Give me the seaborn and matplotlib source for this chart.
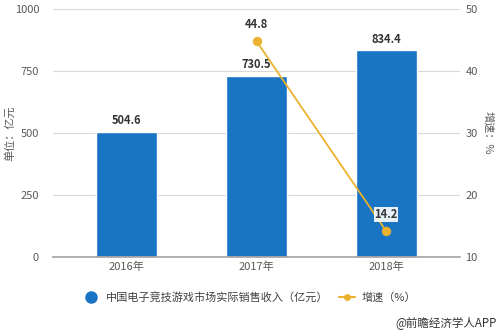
import matplotlib
matplotlib.use("Agg")
import matplotlib.pyplot as plt
import seaborn as sns
import pandas as pd
from matplotlib.lines import Line2D

years = ["2016年", "2017年", "2018年"]
revenue = [504.6, 730.5, 834.4]
growth_years = ["2017年", "2018年"]
growth = [44.8, 14.2]

bar_label = "中国电子竞技游戏市场实际销售收入（亿元）"
line_label = "增速（%）"

sns.set_theme(style="white")
plt.rcParams['font.family'] = ['Noto Sans CJK SC', 'DejaVu Sans']

BLUE = "#1a74c4"
ORANGE = "#eab22e"
GRID = "#d9d9d9"
TXT = "#595959"

fig = plt.figure(figsize=(5, 3.33), dpi=100)
ax = fig.add_axes([0.106, 0.228, 0.814, 0.745])

df = pd.DataFrame({"year": years, "rev": revenue})
sns.barplot(data=df, x="year", y="rev", color=BLUE, width=0.47, ax=ax, saturation=1)
ax.set_ylim(0, 1000)
ax.set_yticks([0, 250, 500, 750, 1000])
ax.set_xlim(-0.57, 2.57)
ax.yaxis.grid(True, color=GRID, linewidth=0.8)
ax.set_axisbelow(True)
for s in ["top", "right", "left"]:
    ax.spines[s].set_visible(False)
ax.spines["bottom"].set_color("#a6a6a6")
ax.tick_params(axis="both", length=0, labelsize=8, colors=TXT)
ax.tick_params(axis="y", pad=10)
ax.set_xlabel("")
ax.set_ylabel("单位：亿元", fontsize=8, color=TXT, va="center")
ax.yaxis.set_label_coords(-0.106, 0.5)

for i, v in enumerate(revenue):
    ax.text(i, v + 18, f"{v:.1f}", ha="center", va="bottom", fontsize=8,
            fontweight="bold", color="#333333")

ax2 = ax.twinx()
pos = [years.index(y) for y in growth_years]
gdf = pd.DataFrame({"x": pos, "g": growth})
sns.lineplot(data=gdf, x="x", y="g", color=ORANGE, marker="o", markersize=6,
             markeredgecolor=ORANGE, linewidth=1.3, ax=ax2)
ax2.set_ylim(10, 50)
ax2.set_yticks([10, 20, 30, 40, 50])
ax2.set_xlim(-0.57, 2.57)
for s in ["top", "right", "left", "bottom"]:
    ax2.spines[s].set_visible(False)
ax2.tick_params(axis="y", length=0, labelsize=8, colors=TXT, pad=4)
ax2.set_xlabel("")
ax2.set_ylabel("增速：%", fontsize=8, color=TXT, rotation=270, va="center")
ax2.yaxis.set_label_coords(1.068, 0.5)

for x, g in zip(pos, growth):
    t = ax2.text(x, g + 1.6, f"{g:.1f}", ha="center", va="bottom", fontsize=8,
                 fontweight="bold", color="#333333")
    t.set_bbox(dict(facecolor="white", edgecolor="none", pad=0.5, alpha=0.9))

handles = [
    Line2D([], [], marker="o", color=BLUE, linestyle="none", markersize=8),
    Line2D([], [], marker="o", color=ORANGE, linewidth=1.5, markersize=4),
]
fig.legend(handles, [bar_label, line_label], loc="center", bbox_to_anchor=(0.50, 0.108),
           ncol=2, frameon=False, fontsize=8, labelcolor="#404040",
           handlelength=1.4, columnspacing=1.0, handletextpad=0.6)

fig.text(0.994, 0.03, "@前瞻经济学人APP", ha="right", va="center", fontsize=8.3, color="#333333")

fig.savefig("out.png", dpi=100)
